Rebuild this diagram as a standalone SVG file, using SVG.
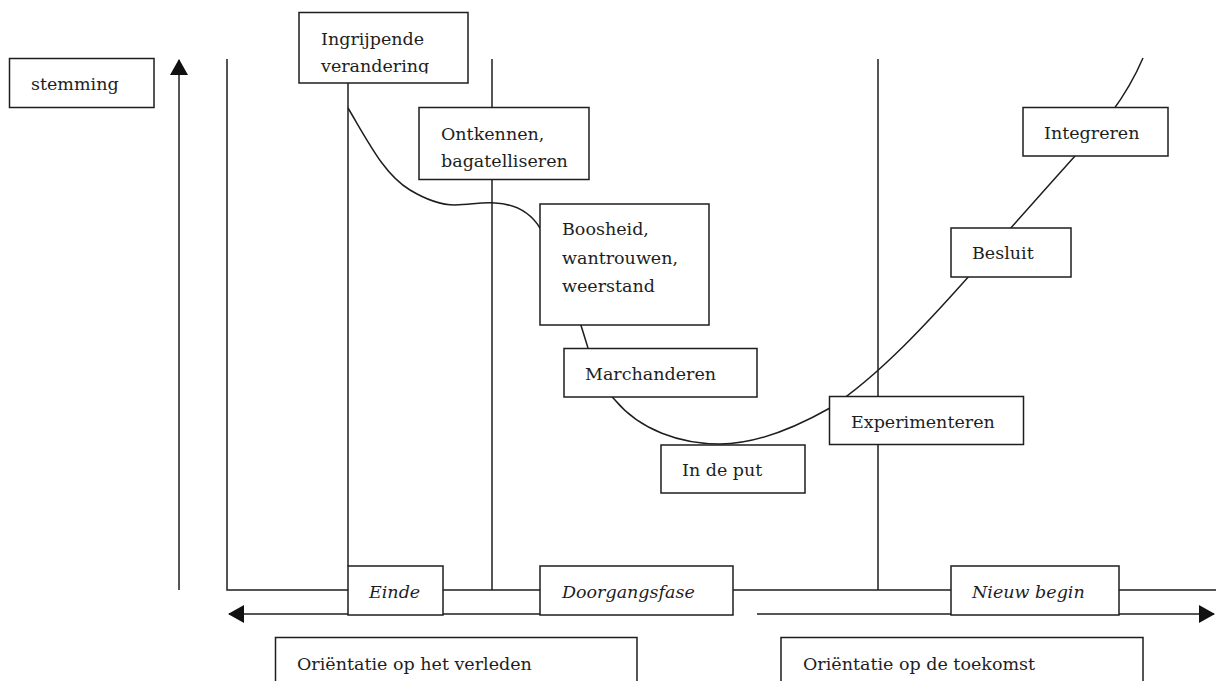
<svg xmlns="http://www.w3.org/2000/svg" width="1216" height="681" viewBox="0 0 1216 681">
  <style>
    .box { fill: #ffffff; stroke: #1e1e1e; stroke-width: 1.5; }
    .line { fill: none; stroke: #1e1e1e; stroke-width: 1.5; }
    .t { font-family: "DejaVu Serif", "Liberation Serif", serif; font-size: 17.5px; fill: #1e1e1e; }
    .it { font-style: italic; }
  </style>
  <defs>
    <marker id="triBig" viewBox="0 0 16 18" refX="15" refY="9" markerWidth="16" markerHeight="18" markerUnits="userSpaceOnUse" orient="auto-start-reverse">
      <path d="M0,0 L16,9 L0,18 Z" fill="#111111"/>
    </marker>
    <clipPath id="clipIngr">
      <rect x="299" y="12" width="169" height="61.5"/>
    </clipPath>
  </defs>
  <rect width="1216" height="681" fill="#ffffff"/>

  <g id="connectors">
    <line class="line" x1="179" y1="590" x2="179" y2="60" marker-end="url(#triBig)"/>
    <polyline class="line" points="227,59 227,590 1216,590"/>
    <line class="line" x1="348" y1="83" x2="348" y2="566"/>
    <line class="line" x1="492" y1="59" x2="492" y2="590"/>
    <line class="line" x1="878" y1="59" x2="878" y2="590"/>
    <line class="line" x1="733" y1="614" x2="229" y2="614" marker-end="url(#triBig)"/>
    <line class="line" x1="757" y1="614" x2="1214" y2="614" marker-end="url(#triBig)"/>
    <path class="line" d="M348,108 C370,145 385,175 410,190 C425,199 440,205 455,205 C470,205 480,202 495,203 C515,204 530,212 540,228 C560,260 575,305 588,348 C598,375 605,390 615,400 C640,430 680,444 720,444 C760,444 800,425 830,408 C880,375 930,320 970,275 C1000,240 1040,195 1075,156 C1100,128 1125,100 1143,58"/>
  </g>

  <g id="node-stemming">
    <rect class="box" x="9.5" y="58.5" width="144.5" height="49"/>
    <text class="t" x="31" y="90">stemming</text>
  </g>

  <g id="node-ingrijpende">
    <rect class="box" x="299" y="12.5" width="169" height="70.5"/>
    <g clip-path="url(#clipIngr)">
      <text class="t" x="321" y="45">Ingrijpende</text>
      <text class="t" x="321" y="72">verandering</text>
    </g>
  </g>

  <g id="node-ontkennen">
    <rect class="box" x="419" y="107.5" width="170" height="72"/>
    <text class="t" x="441" y="140">Ontkennen,</text>
    <text class="t" x="441" y="167">bagatelliseren</text>
  </g>

  <g id="node-boosheid">
    <rect class="box" x="540" y="204" width="169" height="121"/>
    <text class="t" x="562" y="235">Boosheid,</text>
    <text class="t" x="562" y="264">wantrouwen,</text>
    <text class="t" x="562" y="292">weerstand</text>
  </g>

  <g id="node-marchanderen">
    <rect class="box" x="564" y="348.5" width="193" height="48.5"/>
    <text class="t" x="585" y="380">Marchanderen</text>
  </g>

  <g id="node-indeput">
    <rect class="box" x="661" y="445" width="144" height="48"/>
    <text class="t" x="682" y="476">In de put</text>
  </g>

  <g id="node-experimenteren">
    <rect class="box" x="829.5" y="396.5" width="194" height="48"/>
    <text class="t" x="851" y="428">Experimenteren</text>
  </g>

  <g id="node-besluit">
    <rect class="box" x="951" y="228" width="120" height="49"/>
    <text class="t" x="972" y="259">Besluit</text>
  </g>

  <g id="node-integreren">
    <rect class="box" x="1023" y="107.5" width="145" height="48.5"/>
    <text class="t" x="1044" y="139">Integreren</text>
  </g>

  <g id="node-einde">
    <rect class="box" x="348" y="566" width="95" height="49"/>
    <text class="t it" x="369" y="598">Einde</text>
  </g>

  <g id="node-doorgangsfase">
    <rect class="box" x="540" y="566" width="193" height="49"/>
    <text class="t it" x="562" y="598">Doorgangsfase</text>
  </g>

  <g id="node-nieuwbegin">
    <rect class="box" x="951" y="566" width="168" height="49"/>
    <text class="t it" x="972" y="598">Nieuw begin</text>
  </g>

  <g id="node-verleden">
    <rect class="box" x="275.5" y="637.5" width="361.5" height="60"/>
    <text class="t" x="297" y="670">Oriëntatie op het verleden</text>
  </g>

  <g id="node-toekomst">
    <rect class="box" x="781" y="637.5" width="362" height="60"/>
    <text class="t" x="803" y="670">Oriëntatie op de toekomst</text>
  </g>
</svg>
